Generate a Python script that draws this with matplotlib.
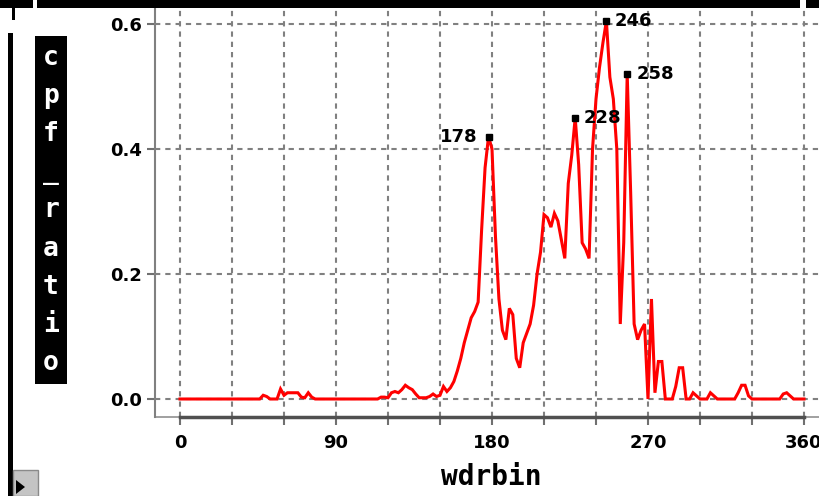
import matplotlib
matplotlib.use("Agg")
import matplotlib.pyplot as plt
from matplotlib.patches import Rectangle, Polygon

plt.rcParams["lines.scale_dashes"] = False

# Wind-direction bins (degrees) and the conditional probability ratio per bin
wdrbin = list(range(0, 361, 2))
cpf_ratio = [
    0, 0, 0, 0, 0, 0, 0, 0, 0, 0,
    0, 0, 0, 0, 0, 0, 0, 0, 0, 0,
    0, 0, 0, 0, 0.006, 0.004, 0, 0, 0, 0.016,
    0.006, 0.01, 0.01, 0.01, 0.01, 0.003, 0.002, 0.01, 0.003, 0,
    0, 0, 0, 0, 0, 0, 0, 0, 0, 0,
    0, 0, 0, 0, 0, 0, 0, 0, 0.003, 0.003,
    0.002, 0.01, 0.012, 0.01, 0.015, 0.022, 0.018, 0.015, 0.008, 0.002,
    0.002, 0.002, 0.004, 0.008, 0.004, 0.006, 0.02, 0.012, 0.018, 0.028,
    0.045, 0.065, 0.09, 0.11, 0.13, 0.14, 0.155, 0.27, 0.37, 0.42,
    0.40, 0.26, 0.16, 0.11, 0.095, 0.145, 0.135, 0.065, 0.05, 0.09,
    0.105, 0.12, 0.15, 0.2, 0.235, 0.295, 0.29, 0.275, 0.297, 0.285,
    0.255, 0.225, 0.345, 0.39, 0.45, 0.375, 0.25, 0.24, 0.225, 0.40,
    0.48, 0.53, 0.57, 0.605, 0.515, 0.48, 0.40, 0.12, 0.25, 0.52,
    0.33, 0.12, 0.095, 0.11, 0.12, 0.0, 0.16, 0.01, 0.06, 0.06,
    0, 0, 0, 0.02, 0.05, 0.05, 0, 0, 0.01, 0.005,
    0, 0, 0, 0.01, 0.005, 0, 0, 0, 0, 0,
    0, 0.01, 0.022, 0.022, 0.005, 0, 0, 0, 0, 0,
    0, 0, 0, 0, 0.008, 0.01, 0.005, 0, 0, 0,
    0,
]

# Peaks that carry a value label
peak_bins = [178, 228, 246, 258]
peak_offsets = [(-11, 0), (8, 0), (8, 0), (9, 0)]
peak_align = ["right", "left", "left", "left"]

x_ticks = [0, 90, 180, 270, 360]
x_minor = [30, 60, 120, 150, 210, 240, 300, 330]
y_ticks = [0.0, 0.2, 0.4, 0.6]

W, H = 820, 496
fig = plt.figure(figsize=(W / 100, H / 100), dpi=100)

# axes frame in pixel terms
left_px, right_px, top_px, bottom_px = 155, 820, 8, 417
ax = fig.add_axes([left_px / W, (H - bottom_px) / H,
                   (right_px - left_px) / W, (bottom_px - top_px) / H])

x0_px, x360_px = 180, 804
y0_px, y06_px = 399, 24
sx = 360 / (x360_px - x0_px)
sy = 0.6 / (y0_px - y06_px)
ax.set_xlim((left_px - x0_px) * sx, (right_px - x0_px) * sx)
ax.set_ylim((y0_px - bottom_px) * sy, (y0_px - top_px) * sy)

grid_kw = dict(color="#808080", linewidth=1.5, linestyle=(0, (3.8, 3.6)))
ax.set_xticks(x_ticks)
ax.set_xticks(x_minor, minor=True)
ax.set_yticks(y_ticks)
ax.set_yticklabels([f"{v:.1f}" for v in y_ticks])
ax.grid(True, axis="x", which="both", **grid_kw)
ax.grid(True, axis="y", which="major", **grid_kw)
ax.set_axisbelow(True)

tick_font = dict(family="DejaVu Sans", weight="bold", size=13)
for lab in ax.get_xticklabels() + ax.get_yticklabels():
    lab.set_fontproperties(matplotlib.font_manager.FontProperties(**tick_font))

ax.tick_params(axis="both", which="both", direction="out", length=6,
               width=1.5, color="#707070")
ax.tick_params(axis="x", pad=6)
ax.tick_params(axis="y", pad=3)

for side in ["top", "right"]:
    ax.spines[side].set_visible(False)
ax.spines["left"].set_color("#808080")
ax.spines["left"].set_linewidth(1.5)
ax.spines["bottom"].set_color("#505050")
ax.spines["bottom"].set_linewidth(2.5)
ax.spines["bottom"].set_bounds(0, 360)
# thin light baseline running the full width under the heavy axis line
ax.plot([0, 1], [0, 0], transform=ax.transAxes, color="#909090",
        linewidth=1.2, clip_on=False, zorder=1)

ax.plot(wdrbin, cpf_ratio, color="#ff0000", linewidth=2.2, zorder=3,
        solid_joinstyle="miter")

for b, off, ha in zip(peak_bins, peak_offsets, peak_align):
    v = cpf_ratio[wdrbin.index(b)]
    ax.plot([b], [v], marker="s", color="black", markersize=5, zorder=4,
            linestyle="none")
    ax.annotate(str(b), (b, v), xytext=off, textcoords="offset pixels",
                ha=ha, va="center", fontfamily="DejaVu Sans",
                fontweight="bold", fontsize=13, zorder=5)

# x-axis title
fig.text(491 / W, 1 - 485 / H, "wdrbin", ha="center", va="baseline",
         fontfamily="DejaVu Sans Mono", fontweight="bold", fontsize=20)

# y-axis title: white letters stacked in a black box
fig.patches.append(Rectangle((35 / W, 1 - 384 / H), 32 / W, 348 / H,
                             transform=fig.transFigure, facecolor="black",
                             edgecolor="none"))
ylabel = "cpf_ratio"
for i, ch in enumerate(ylabel):
    yb = 65 + 38.1 * i
    fig.text(51 / W, 1 - yb / H, ch, ha="center", va="baseline",
             color="white", fontfamily="DejaVu Sans Mono",
             fontweight="bold", fontsize=19)

# window frame pieces
frame = [
    (0, 0, 33, 8), (37, 0, 800, 8), (806, 0, 820, 8),
    (12, 8, 15, 20), (8, 33, 13, 496),
]
for x1, y1, x2, y2 in frame:
    fig.patches.append(Rectangle((x1 / W, 1 - y2 / H), (x2 - x1) / W,
                                 (y2 - y1) / H, transform=fig.transFigure,
                                 facecolor="black", edgecolor="none"))

# small scroll button in the lower-left corner
fig.patches.append(Rectangle((13 / W, 0), 25 / W, 26 / H,
                             transform=fig.transFigure, facecolor="#c4c4c4",
                             edgecolor="#8a8a8a", linewidth=1))
fig.patches.append(Polygon([(16 / W, 1 - 480 / H), (16 / W, 1 - 494 / H),
                            (25 / W, 1 - 487 / H)], closed=True,
                           transform=fig.transFigure, facecolor="black",
                           edgecolor="none"))

fig.savefig("out.png", dpi=100)
